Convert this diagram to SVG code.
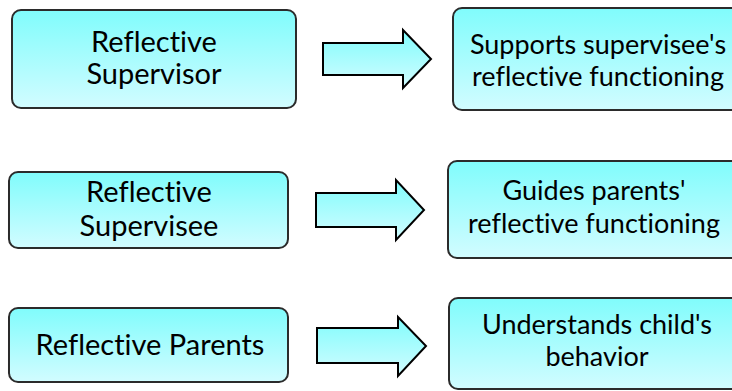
<svg xmlns="http://www.w3.org/2000/svg" width="732" height="391" viewBox="0 0 732 391">
<defs>
<linearGradient id="g" x1="0" y1="0" x2="0" y2="1">
<stop offset="0" stop-color="#80FCFC"/>
<stop offset="1" stop-color="#D2FCFF"/>
</linearGradient>
<style>
.box{fill:url(#g);stroke:#2b2b2b;stroke-width:2}
.arr{fill:url(#g);stroke:#000;stroke-width:2;stroke-linejoin:miter}
text{font-family:Lato,"Open Sans",sans-serif;font-size:29px;fill:#000;text-anchor:middle;font-variant-ligatures:none;font-feature-settings:"liga" 0}
.r{font-size:27px}
</style>
</defs>
<rect width="732" height="391" fill="#fff"/>
<g id="n1"><rect class="box" x="12" y="10" width="284" height="98" rx="9"/>
<text x="154" y="52">Reflective</text><text x="154" y="84">Supervisor</text></g>
<g id="n2"><rect class="box" x="453" y="8" width="300" height="102" rx="9"/>
<text class="r" x="598" y="54">Supports supervisee's</text><text class="r" x="598" y="86">reflective functioning</text></g>
<g id="n3"><rect class="box" x="9" y="172" width="279" height="76" rx="9"/>
<text x="149" y="202">Reflective</text><text x="149" y="236">Supervisee</text></g>
<g id="n4"><rect class="box" x="448" y="161" width="300" height="97" rx="9"/>
<text class="r" x="594" y="200">Guides parents'</text><text class="r" x="594" y="233">reflective functioning</text></g>
<g id="n5"><rect class="box" x="9" y="308" width="279" height="74" rx="9"/>
<text x="150" y="355">Reflective Parents</text></g>
<g id="n6"><rect class="box" x="449" y="298" width="300" height="91" rx="9"/>
<text class="r" x="597" y="334">Understands child's</text><text class="r" x="597" y="366">behavior</text></g>
<g id="connectors">
<path class="arr" d="M323,43 H403 V30 L431,59 L403,88 V75 H323 Z"/>
<path class="arr" d="M316,193 H396 V180 L424,210 L396,240 V227 H316 Z"/>
<path class="arr" d="M317,328 H398 V317 L426,346 L398,376 V363 H317 Z"/>
</g>
</svg>
